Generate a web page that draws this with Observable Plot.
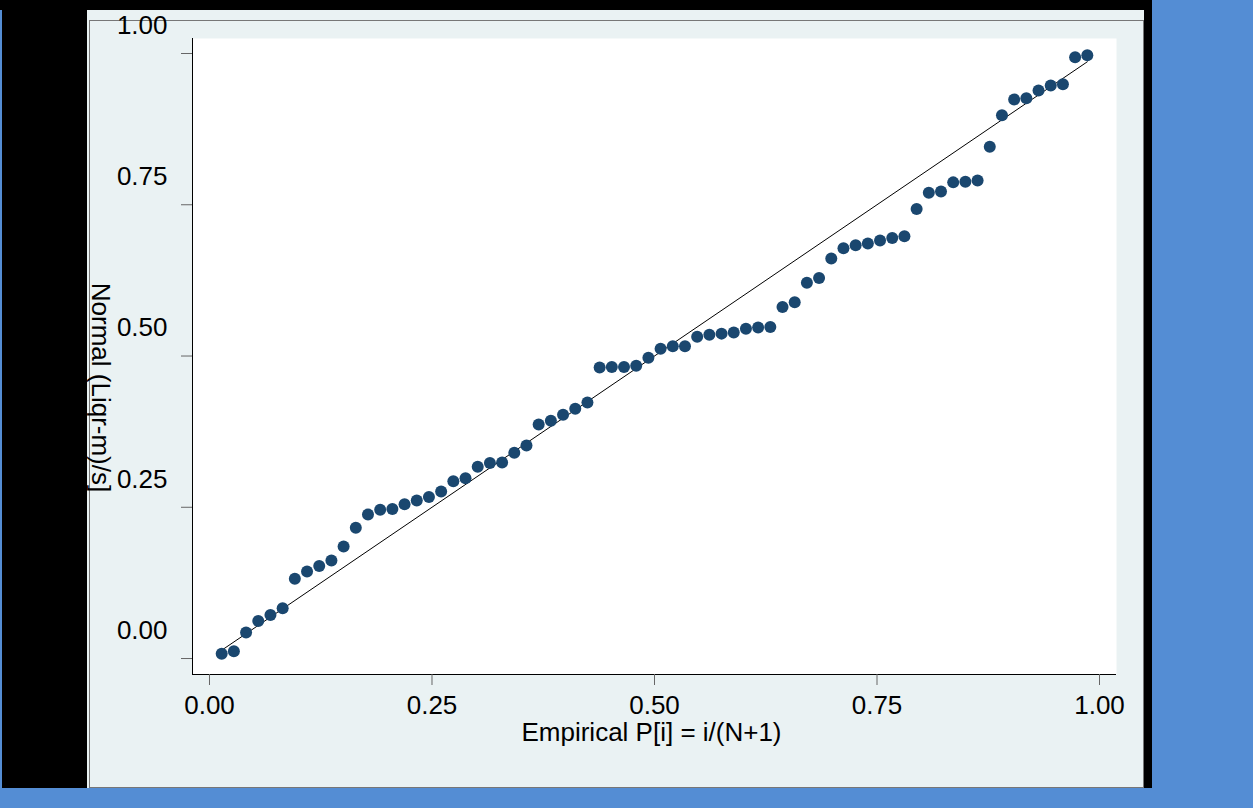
<!DOCTYPE html>
<html>
<head>
<meta charset="utf-8">
<script src="https://cdn.jsdelivr.net/npm/d3@7"></script>
<script src="https://cdn.jsdelivr.net/npm/@observablehq/plot@0.6"></script>
<style>
html, body { margin: 0; padding: 0; }
body { width: 1253px; height: 808px; background: #548dd4; position: relative; overflow: hidden; font-family: "Liberation Sans", Arial, sans-serif; }
#black { position: absolute; left: 0; top: 0; width: 1152px; height: 788px; background: #000; }
#blueStrip { position: absolute; left: 0; top: 10px; width: 2px; height: 778px; background: #548dd4; }
#panel { position: absolute; left: 87px; top: 10px; width: 1057px; height: 778px; background: #eaf2f3; }
#border { position: absolute; left: 89px; top: 20px; width: 1053px; height: 766px; border: 1px solid #777; }
#chart { position: absolute; left: 0; top: 0; }
</style>
</head>
<body>
<div id="black"></div>
<div id="blueStrip"></div>
<div id="panel"></div>
<div id="border"></div>
<div id="chart"></div>
<script>
const normalQuantile = [
  0.008, 0.012, 0.043, 0.062, 0.072, 0.083, 0.132, 0.144, 0.153, 0.162,
  0.185, 0.216, 0.238, 0.246, 0.247, 0.255, 0.261, 0.267, 0.276, 0.293,
  0.298, 0.317, 0.323, 0.324, 0.340, 0.352, 0.387, 0.393, 0.403, 0.413,
  0.423, 0.481, 0.482, 0.482, 0.484, 0.497, 0.512, 0.516, 0.516, 0.532,
  0.535, 0.537, 0.539, 0.545, 0.547, 0.548, 0.581, 0.589, 0.621, 0.629,
  0.661, 0.678, 0.683, 0.686, 0.691, 0.695, 0.698, 0.743, 0.770, 0.772,
  0.787, 0.788, 0.790, 0.846, 0.898, 0.924, 0.926, 0.939, 0.947, 0.949,
  0.994, 0.997
];
// Empirical P[i] = i/(N+1), as stated by the x axis title
const empiricalP = normalQuantile.map((_, i) => (i + 1) / (normalQuantile.length + 1));

const xTicks = [0, 0.25, 0.5, 0.75, 1];
const yTicks = [0, 0.25, 0.5, 0.75, 1];
const xTitle = "Empirical P[i] = i/(N+1)";
const yTitle = "Normal (Liqr-m)/s]";
const xDomain = [-0.0191, 1.0191];
const yDomain = [-0.0264, 1.0248];

const points = empiricalP.map((p, i) => ({ p, q: normalQuantile[i] }));
const refLine = [empiricalP[0], empiricalP[empiricalP.length - 1]].map(v => ({ p: v, q: v }));

const fmt = d3.format(".2f");
const font = "'Liberation Sans', Arial, sans-serif";

const chart = Plot.plot({
  width: 1253,
  height: 808,
  marginLeft: 192,
  marginRight: 137,
  marginTop: 38,
  marginBottom: 134,
  style: { background: "transparent", fontFamily: font, fontSize: "26px", color: "#000", overflow: "visible" },
  x: { domain: xDomain, label: null },
  y: { domain: yDomain, label: null },
  marks: [
    Plot.frame({ fill: "white", stroke: null }),
    Plot.ruleX([xDomain[0]], { stroke: "#000", strokeWidth: 1 }),
    Plot.ruleY([yDomain[0]], { stroke: "#000", strokeWidth: 1 }),
    Plot.axisY(yTicks, { anchor: "left", tickSize: 11, tickFormat: () => "", stroke: "#666", label: null }),
    Plot.axisY(yTicks, { anchor: "left", tickSize: 0, tickPadding: 25, dy: -28, tickFormat: fmt, fontSize: 26, color: "#000", label: null }),
    Plot.axisX(xTicks, { anchor: "bottom", tickSize: 11, tickFormat: () => "", stroke: "#666", label: null }),
    Plot.axisX(xTicks, { anchor: "bottom", tickSize: 0, tickPadding: 21, tickFormat: fmt, fontSize: 26, color: "#000", label: null }),
    Plot.line(refLine, { x: "p", y: "q", stroke: "#000", strokeWidth: 1 }),
    Plot.dot(points, { x: "p", y: "q", r: 6, fill: "#1a476f", stroke: null }),
    Plot.text([xTitle], { text: d => d, frameAnchor: "bottom", textAnchor: "middle", dx: -3, dy: 58, fontSize: 26, fill: "#000", lineAnchor: "middle" }),
    Plot.text([yTitle], { text: d => d, frameAnchor: "left", textAnchor: "middle", dx: -92, dy: 31, rotate: 90, fontSize: 26, fill: "#000", lineAnchor: "middle" })
  ]
});
document.getElementById("chart").appendChild(chart);
</script>
</body>
</html>
